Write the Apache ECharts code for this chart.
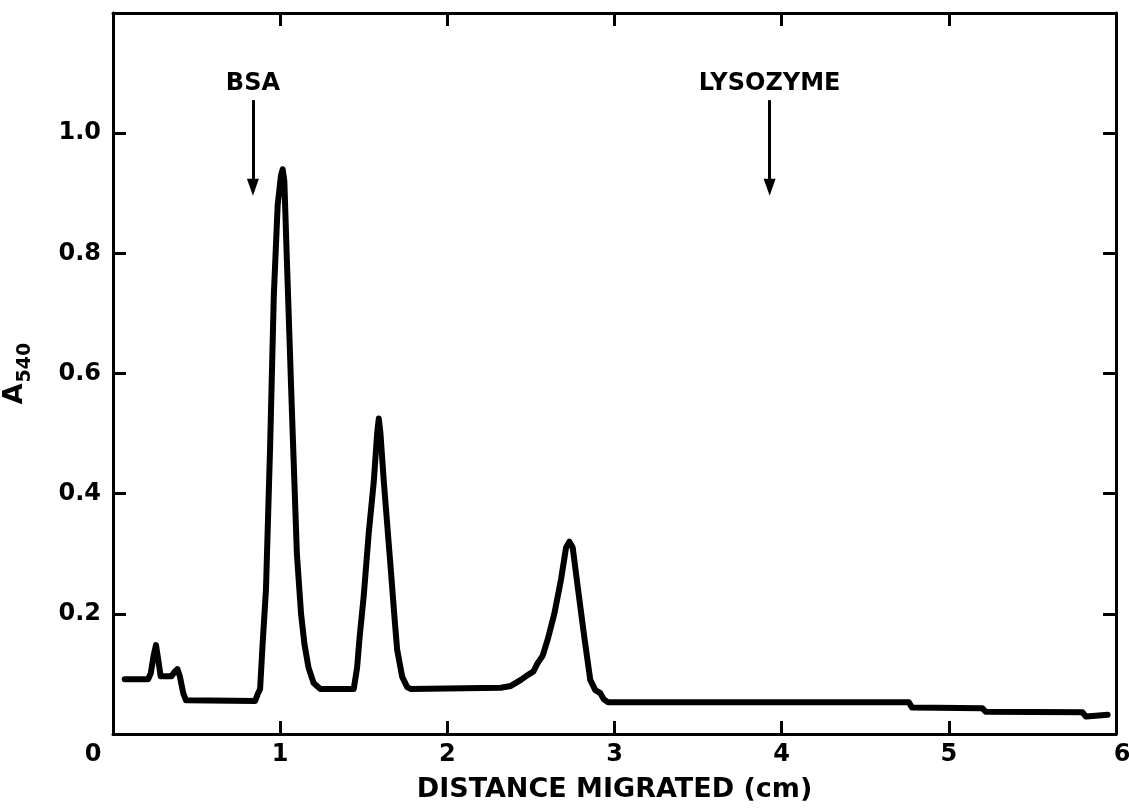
<!DOCTYPE html>
<html>
<head>
<meta charset="utf-8">
<script src="https://cdn.jsdelivr.net/npm/echarts@6/dist/echarts.min.js"></script>
<style>
html,body{margin:0;padding:0;background:#fff;}
#chart{width:1129px;height:809px;}
</style>
</head>
<body>
<div id="chart"></div>
<script>
// ---- data ----
const distance = [
  0.07, 0.21, 0.226, 0.242, 0.257, 0.271, 0.285, 0.35, 0.37, 0.385, 0.40, 0.42, 0.437,
  0.85, 0.865, 0.88, 0.895, 0.915, 0.94, 0.962, 0.985, 1.005, 1.015, 1.025, 1.04, 1.07, 1.10, 1.125, 1.145, 1.17, 1.2, 1.24,
  1.44, 1.46, 1.475, 1.50, 1.53, 1.56, 1.58, 1.59, 1.60, 1.62, 1.66, 1.685, 1.70, 1.73, 1.76, 1.78,
  2.32, 2.38, 2.41, 2.44, 2.48, 2.515, 2.54, 2.57, 2.60, 2.64, 2.68, 2.71, 2.73, 2.75, 2.78, 2.82, 2.855, 2.885, 2.915, 2.935, 2.96,
  4.76, 4.78, 5.20, 5.22, 5.80, 5.82, 5.86, 5.95
];
const absorbance = [
  0.091, 0.091, 0.101, 0.129, 0.148, 0.123, 0.096, 0.096, 0.104, 0.108, 0.096, 0.068, 0.056,
  0.055, 0.066, 0.075, 0.15, 0.24, 0.48, 0.73, 0.88, 0.93, 0.94, 0.92, 0.79, 0.54, 0.30, 0.20, 0.15, 0.11, 0.085, 0.075,
  0.075, 0.11, 0.16, 0.23, 0.335, 0.42, 0.50, 0.525, 0.50, 0.42, 0.28, 0.19, 0.14, 0.095, 0.078, 0.075,
  0.077, 0.08, 0.085, 0.09, 0.098, 0.104, 0.118, 0.13, 0.157, 0.20, 0.257, 0.31, 0.32, 0.31, 0.245, 0.16, 0.09, 0.073, 0.068, 0.058, 0.053,
  0.053, 0.044, 0.043, 0.037, 0.036, 0.029, 0.030, 0.032
];
const xTickLabels = ['0', '1', '2', '3', '4', '5', '6'];
const yTickLabels = ['', '0.2', '0.4', '0.6', '0.8', '1.0', ''];
const markerNames = ['BSA', 'LYSOZYME'];
const markerX = [0.837, 3.928];

// ---- chart ----
const FONT = '"DejaVu Sans", "Liberation Sans", sans-serif';
const points = distance.map((d, i) => [d, absorbance[i]]);
const ARROW_TOP = 1.055, ARROW_TIP = 0.91;

const axisLineStyle = { color: '#000', width: 3 };
const tickStyle = { show: true, inside: true, length: 13, lineStyle: { color: '#000', width: 3 } };

const chart = echarts.init(document.getElementById('chart'), null, { renderer: 'canvas' });
chart.setOption({
  animation: false,
  backgroundColor: '#fff',
  grid: { left: 113, right: 13, top: 13, bottom: 75, containLabel: false, outerBoundsMode: 'none' },
  xAxis: [
    {
      type: 'value', min: 0, max: 6, interval: 1, position: 'bottom',
      name: 'DISTANCE MIGRATED (cm)', nameLocation: 'middle', nameGap: 42,
      nameTextStyle: { color: '#000', fontFamily: FONT, fontWeight: 'bold', fontSize: 27 },
      axisLine: { show: true, onZero: false, lineStyle: axisLineStyle },
      axisTick: tickStyle,
      splitLine: { show: false },
      axisLabel: {
        color: '#000', fontFamily: FONT, fontWeight: 'bold', fontSize: 24, margin: 9,
        showMinLabel: true, showMaxLabel: true,
        formatter: function (v) {
          const t = xTickLabels[Math.round(v)];
          if (Math.round(v) === 0) return '{z|' + t + '}';
          if (Math.round(v) === 6) return '{s|' + t + '}';
          return t;
        },
        rich: {
          z: { color: '#000', fontFamily: FONT, fontWeight: 'bold', fontSize: 24, padding: [0, 40, 0, 0] },
          s: { color: '#000', fontFamily: FONT, fontWeight: 'bold', fontSize: 24, padding: [0, 0, 0, 12] }
        }
      }
    },
    {
      type: 'value', min: 0, max: 6, interval: 1, position: 'top',
      axisLine: { show: true, onZero: false, lineStyle: axisLineStyle },
      axisTick: tickStyle,
      axisLabel: { show: false },
      splitLine: { show: false }
    }
  ],
  yAxis: [
    {
      type: 'value', min: 0, max: 1.2, interval: 0.2, position: 'left',
      name: '{a|A}{s|540}', nameLocation: 'middle', nameGap: 78, nameRotate: 90,
      nameTextStyle: {
        color: '#000', fontFamily: FONT, fontWeight: 'bold',
        rich: {
          a: { color: '#000', fontFamily: FONT, fontWeight: 'bold', fontSize: 27, lineHeight: 34, verticalAlign: 'top' },
          s: { color: '#000', fontFamily: FONT, fontWeight: 'bold', fontSize: 19, lineHeight: 34, verticalAlign: 'bottom', padding: [14, 0, 0, 1] }
        }
      },
      axisLine: { show: true, onZero: false, lineStyle: axisLineStyle },
      axisTick: tickStyle,
      splitLine: { show: false },
      axisLabel: {
        color: '#000', fontFamily: FONT, fontWeight: 'bold', fontSize: 24, margin: 12,
        formatter: function (v) { return yTickLabels[Math.round(v * 5)]; }
      }
    },
    {
      type: 'value', min: 0, max: 1.2, interval: 0.2, position: 'right',
      axisLine: { show: true, onZero: false, lineStyle: axisLineStyle },
      axisTick: tickStyle,
      axisLabel: { show: false },
      splitLine: { show: false }
    }
  ],
  series: [
    {
      type: 'line',
      data: points,
      showSymbol: false,
      symbol: 'none',
      smooth: false,
      lineStyle: { color: '#000', width: 6, join: 'round', cap: 'round' },
      silent: true,
      markLine: {
        silent: true,
        symbol: ['none', 'triangle'],
        symbolSize: [12, 17],
        lineStyle: { color: '#000', width: 3, type: 'solid' },
        label: {
          show: true, position: 'start', distance: 4, formatter: '{b}',
          color: '#000', fontFamily: FONT, fontWeight: 'bold', fontSize: 24
        },
        data: markerNames.map((n, i) => [
          { name: n, coord: [markerX[i], ARROW_TOP] },
          { coord: [markerX[i], ARROW_TIP] }
        ])
      }
    }
  ]
});
</script>
</body>
</html>
